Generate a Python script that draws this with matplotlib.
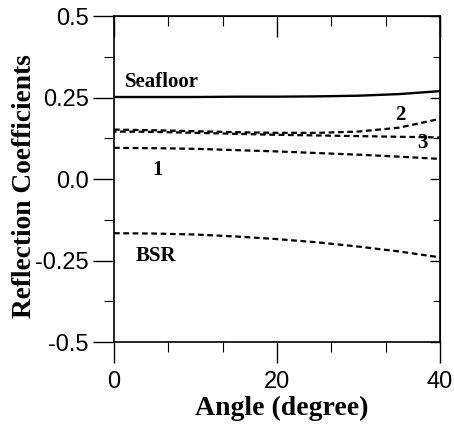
import numpy as np
import matplotlib.pyplot as plt
from matplotlib.ticker import MultipleLocator, FixedFormatter, FixedLocator

# incidence angle (degree)
angle = [0, 5, 10, 15, 20, 25, 30, 35, 40]

# reflection coefficients of each interface
seafloor = [0.252, 0.252, 0.252, 0.253, 0.253, 0.254, 0.256, 0.261, 0.270]
refl_2 = [0.152, 0.150, 0.147, 0.144, 0.142, 0.142, 0.146, 0.158, 0.185]
refl_3 = [0.146, 0.145, 0.142, 0.139, 0.136, 0.134, 0.132, 0.130, 0.128]
refl_1 = [0.096, 0.095, 0.093, 0.089, 0.085, 0.080, 0.075, 0.069, 0.062]
bsr = [-0.166, -0.167, -0.170, -0.176, -0.184, -0.194, -0.207, -0.222, -0.240]

y_ticks = [-0.5, -0.25, 0.0, 0.25, 0.5]
y_ticklabels = ['-0.5', '-0.25', '0.0', '0.25', '0.5']
x_ticks = [0, 20, 40]

serif = ['Liberation Serif', 'DejaVu Serif']
sans = ['Liberation Sans', 'DejaVu Sans']

fig = plt.figure(figsize=(4.54, 4.26), dpi=100)
ax = fig.add_axes([0.251, 0.197, 0.718, 0.765])

dash = (0, (2.6, 1.6))
ax.plot(angle, seafloor, color='black', lw=1.7, solid_capstyle='butt')
ax.plot(angle, refl_2, color='black', lw=1.6, linestyle=dash)
ax.plot(angle, refl_3, color='black', lw=1.6, linestyle=(1.5, (2.6, 1.6)))
ax.plot(angle, refl_1, color='black', lw=1.6, linestyle=dash)
ax.plot(angle, bsr, color='black', lw=1.6, linestyle=dash)

ax.set_xlim(0, 40)
ax.set_ylim(-0.5, 0.5)

# curve labels
lab = dict(family=serif, fontweight='bold', fontsize=15, color='black')
ax.text(1.3, 0.297, 'Seafloor', ha='left', va='center', **lab)
ax.text(35.2, 0.197, '2', ha='center', va='center', **lab)
ax.text(37.9, 0.112, '3', ha='center', va='center', **lab)
ax.text(5.4, 0.028, '1', ha='center', va='center', **lab)
ax.text(2.6, -0.236, 'BSR', ha='left', va='center', **lab)

# left/bottom ticks point outward
ax.xaxis.set_major_locator(FixedLocator(x_ticks))
ax.xaxis.set_minor_locator(MultipleLocator(20 / 3))
ax.yaxis.set_major_locator(FixedLocator(y_ticks))
ax.yaxis.set_major_formatter(FixedFormatter(y_ticklabels))
ax.yaxis.set_minor_locator(MultipleLocator(0.125))
ax.tick_params(which='major', direction='out', length=15, width=1.0)
ax.tick_params(which='minor', direction='out', length=7, width=0.8)
ax.tick_params(axis='x', which='major', pad=6, labelsize=17)
ax.tick_params(axis='y', which='major', pad=3, labelsize=17)
for t in ax.get_xticklabels() + ax.get_yticklabels():
    t.set_family(sans)

# top/right ticks point inward
top = ax.secondary_xaxis('top')
top.xaxis.set_major_locator(FixedLocator(x_ticks))
top.xaxis.set_minor_locator(MultipleLocator(20 / 3))
top.tick_params(which='major', direction='in', length=15, width=1.0, labeltop=False)
top.tick_params(which='minor', direction='in', length=7, width=0.8)
right = ax.secondary_yaxis('right')
right.yaxis.set_major_locator(FixedLocator(y_ticks))
right.yaxis.set_minor_locator(MultipleLocator(0.125))
right.tick_params(which='major', direction='in', length=7, width=1.0, labelright=False)
right.tick_params(which='minor', direction='in', length=5, width=0.8)

for s in ax.spines.values():
    s.set_linewidth(1.2)

ax.set_xlabel('Angle (degree)', family=serif, fontweight='bold', fontsize=20)
ax.set_ylabel('Reflection Coefficients', family=serif, fontweight='bold', fontsize=19.7)
ax.xaxis.set_label_coords(0.515, -0.165)
ax.yaxis.set_label_coords(-0.236, 0.48)

fig.savefig('out.png', dpi=100)
